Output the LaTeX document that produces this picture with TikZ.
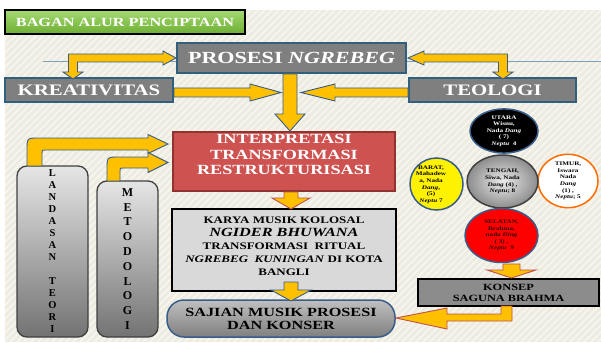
\documentclass[tikz,border=0pt]{standalone}
\usepackage{fontspec}
\setmainfont{Liberation Serif}[FakeStretch=1.3]
\newfontfamily\pillarfont{Liberation Serif}
\usetikzlibrary{shadows,shapes.geometric}
\definecolor{bg}{HTML}{EEECE1}
\definecolor{ayellow}{HTML}{FFC000}
\definecolor{ablue}{HTML}{385D8A}
\definecolor{ared}{HTML}{C0504D}
\definecolor{boxgray}{HTML}{7F7F7F}
\definecolor{boxedge}{HTML}{31607E}
\definecolor{interred}{HTML}{CD5250}
\definecolor{interedge}{HTML}{8E3532}
\definecolor{titlegreen}{HTML}{8ED04F}
\definecolor{titlegreendark}{HTML}{6DAE33}
\definecolor{karyagray}{HTML}{D9D9D9}
\definecolor{thinblue}{HTML}{7F9FC0}
\begin{document}
\begin{tikzpicture}[x=1pt,y=-1pt,
  shadowed/.style={drop shadow={shadow xshift=1.3pt,shadow yshift=-1.3pt,opacity=0.55}},
  graybox/.style={draw=boxedge,line width=1.2pt,fill=boxgray,text=white,inner sep=0pt,shadowed,
     font=\bfseries\fontsize{16}{18}\selectfont},
  yarrow/.style={fill=ayellow,draw=ablue,line width=0.9pt,line join=miter},
  rarrow/.style={fill=ayellow,draw=ared,line width=0.9pt,line join=miter},
  pillar/.style={draw=black!75,line width=1.3pt,rounded corners=10pt,top color=black!10,bottom color=black!55,inner sep=0pt},
  disc/.style={ellipse,inner sep=0pt,line width=1.5pt,align=center,font=\bfseries\fontsize{5.5}{6.6}\selectfont},
  disctext/.style={align=center,inner sep=0pt,font=\bfseries\fontsize{5.5}{6.6}\selectfont}
]
\useasboundingbox (0,0) rectangle (601,342);
% background
\fill[white] (0,0) rectangle (601,342);
\fill[bg] (5,10) rectangle (601,342);
\begin{scope}
  \clip (5,10) rectangle (601,342);
  \foreach \i in {-340,-333,...,600}
    \draw[white,opacity=0.5,line width=1.6pt] (\i,342) -- ++(332,-332);
\end{scope}
% thin decorative lines
\draw[thinblue,line width=0.7pt] (43,61.5) -- (177,61.5);
\draw[thinblue,line width=0.7pt] (406,61.5) -- (601,61.5);

% title
\node[draw=black,line width=1.2pt,top color=titlegreen!80!white,bottom color=titlegreendark,
      minimum width=240pt,minimum height=24pt,inner sep=0pt,text=white,
      font=\bfseries\fontsize{12.5}{14}\selectfont] (title) at (125,22) {BAGAN ALUR PENCIPTAAN};

% top boxes
\node[graybox,minimum width=229pt,minimum height=30pt,font=\bfseries\fontsize{17}{19}\selectfont]
  (prosesi) at (291.5,58) {PROSESI \textit{NGREBEG}};
\node[graybox,minimum width=168pt,minimum height=24pt] (kreat) at (89,90) {KREATIVITAS};
\node[graybox,minimum width=167pt,minimum height=24pt] (teologi) at (492.5,90) {TEOLOGI};

% interpretasi
\node[draw=interedge,line width=1.2pt,fill=interred,minimum width=222pt,minimum height=59pt,
      inner sep=0pt,shadowed] (interp) at (284,161.5) {};
\node[text=white,align=center,inner sep=0pt,font=\bfseries\fontsize{14}{15.5}\selectfont]
  (interptext) at (284,154.5) {INTERPRETASI\\TRANSFORMASI\\RESTRUKTURISASI};

% karya
\node[draw=black,line width=1.5pt,fill=karyagray,minimum width=224pt,minimum height=82pt,inner sep=0pt]
  (karya) at (284,250) {};
\node[align=center,inner sep=0pt,font=\bfseries\fontsize{10}{13}\selectfont] (karyatext) at (284,246.5)
  {KARYA MUSIK KOLOSAL\\
   {\fontsize{12.5}{13}\selectfont\itshape NGIDER BHUWANA}\\
   TRANSFORMASI~~RITUAL\\
   \textit{NGREBEG~~KUNINGAN} DI KOTA\\
   BANGLI};

% sajian
\node[draw=ablue,line width=1.5pt,top color=black!25,bottom color=black!50,rounded corners=17pt,
      minimum width=228pt,minimum height=37pt,inner sep=0pt,align=center,
      font=\bfseries\fontsize{12.5}{13}\selectfont] (sajian) at (281,318.5)
  {SAJIAN MUSIK PROSESI\\DAN KONSER};

% pillars
\node[pillar,minimum width=71pt,minimum height=171pt] (landasan) at (52.5,251.5) {};
\node[align=center,inner sep=0pt,font=\pillarfont\bfseries\fontsize{10.5}{12}\selectfont] (landasantext) at (52.5,251)
  {L\\A\\N\\D\\A\\S\\A\\N\\[12pt]T\\E\\O\\R\\I};
\node[pillar,minimum width=61pt,minimum height=156pt] (metod) at (127.5,259) {};
\node[align=center,inner sep=0pt,font=\pillarfont\bfseries\fontsize{12}{14.8}\selectfont] (metodtext) at (127.5,259)
  {M\\E\\T\\O\\D\\O\\L\\O\\G\\I};

% konsep
\node[draw=black,line width=1.5pt,fill=black!45,minimum width=181pt,minimum height=27pt,inner sep=0pt,
      align=center,font=\bfseries\fontsize{9.5}{11}\selectfont] (konsep) at (508.5,292.5)
  {KONSEP\\SAGUNA BRAHMA};

% discs
\node[disc,draw=ablue,fill=black,text=white,minimum width=68pt,minimum height=43pt] (utara) at (504,131)
  {UTARA\\Wisnu,\\Nada \textit{Dang}\\( 7)\\\textit{Neptu}~~4};
\node[disc,draw=ablue,fill=yellow,minimum width=53pt,minimum height=52pt] (barat) at (436.5,184) {};
\node[disctext] (barattext) at (431,184.5) {BARAT,\\Mahadew\\a, Nada\\\textit{Dang},\\(5)\\\textit{Neptu} 7};
\node[disc,draw=orange!85!red,fill=white,minimum width=60pt,minimum height=52pt] (timur) at (568,181)
  {TIMUR,\\Iswara\\Nada\\\textit{Dang}\\(1) ,\\\textit{Neptu}; 5};
\node[disc,draw=black!75,inner color=black!8,outer color=black!45,minimum width=71pt,minimum height=53pt] (tengah) at (502.5,181.5)
  {TENGAH,\\Siwa, Nada\\\textit{Dang} (4) ,\\\textit{Neptu}; 8};
\node[disc,draw=ablue,fill=red,text=black!80!red,minimum width=73pt,minimum height=54pt] (selatan) at (501.5,235.5)
  {SELATAN,\\Brahma,\\nada \textit{Ding}\\( 3) ,\\\textit{Neptu}~~9};

% arrows
% prosesi <-> kreativitas
\draw[yarrow] (176,58) -- (163,65) -- (163,62) -- (77.5,62) -- (77.5,72) -- (83,72) -- (73,79) -- (63,72)
  -- (68.5,72) -- (68.5,54) -- (163,54) -- (163,51) -- cycle;
% prosesi <-> teologi
\draw[yarrow] (408,58) -- (424,51) -- (424,54) -- (507.5,54) -- (507.5,72) -- (513,72) -- (503,79) -- (493,72)
  -- (498.5,72) -- (498.5,62) -- (424,62) -- (424,65) -- cycle;
% kreativitas -> centre
\draw[yarrow] (174,88) -- (250,88) -- (250,84) -- (281,92.5) -- (250,101) -- (250,97) -- (174,97) -- cycle;
% teologi -> centre
\draw[yarrow] (408,88) -- (335,88) -- (335,84) -- (301,92.5) -- (335,101) -- (335,97) -- (408,97) -- cycle;
% prosesi -> interpretasi
\draw[yarrow] (283,74) -- (297,74) -- (297,114) -- (305,114) -- (290,131) -- (275,114) -- (283,114) -- cycle;
% landasan -> interpretasi
\draw[yarrow] (27,166) -- (27,150) .. controls (27,138) .. (39,138) -- (148,138) -- (148,134.5) -- (168,144)
  -- (148,153.5) -- (148,150) -- (45,150) .. controls (42,150) .. (42,153) -- (42,166) -- cycle;
% metodologi -> interpretasi
\draw[yarrow] (107,181) -- (107,169) .. controls (107,157) .. (119,157) -- (148,157) -- (148,152.5) -- (168,162.5)
  -- (148,172.5) -- (148,168) -- (123,168) .. controls (120,168) .. (120,171) -- (120,181) -- cycle;
% interpretasi -> karya
\draw[rarrow] (284,192) -- (298,192) -- (298,198) -- (310,198) -- (291,209) -- (272,198) -- (284,198) -- cycle;
% karya -> sajian
\draw[yarrow] (284,282) -- (298,282) -- (298,290) -- (311,290) -- (291,301) -- (271,290) -- (284,290) -- cycle;
% selatan -> konsep
\draw[rarrow] (503,264) -- (520,264) -- (520,270) -- (536,270) -- (511.5,278) -- (487,270) -- (503,270) -- cycle;
% konsep -> sajian
\draw[rarrow] (501,306) -- (512,306) -- (512,321) -- (447,321) -- (447,329) -- (396,318) -- (447,308)
  -- (447,314) -- (501,314) -- cycle;
\end{tikzpicture}
\end{document}
